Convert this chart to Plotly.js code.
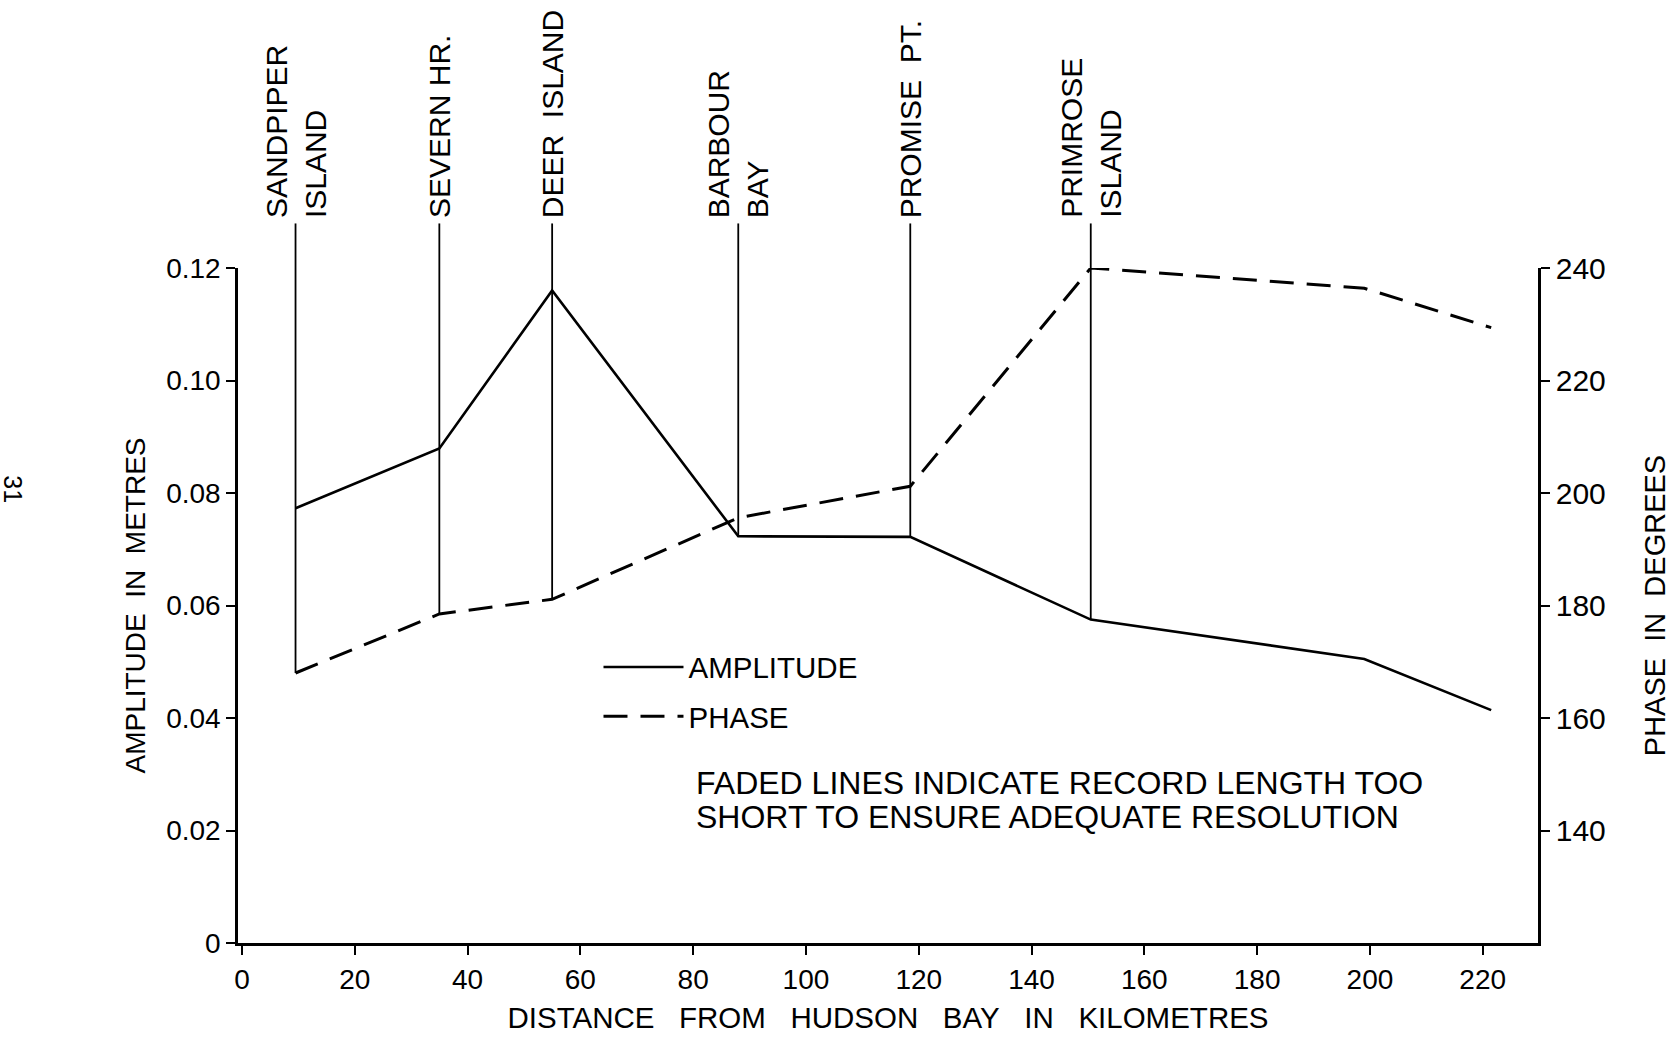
<!DOCTYPE html>
<html>
<head>
<meta charset="utf-8">
<script src="https://cdn.plot.ly/plotly-3.0.1.min.js"></script>
<style>html,body{margin:0;padding:0;background:#fff;}</style>
</head>
<body>
<div id="chart" style="width:1679px;height:1042px;"></div>
<script>
// ---- data ----
const distanceKm = [9.5, 35, 55, 88, 118.5, 150.5, 199, 221.5];
const amplitudeM = [0.0773, 0.0879, 0.116, 0.0723, 0.0722, 0.0575, 0.0505, 0.0414];
const phaseDeg   = [168.0, 178.5, 181.1, 195.6, 201.2, 240.0, 236.4, 229.4];

const stationKm    = [9.5, 35, 55, 88, 118.5, 150.5];
const stationNames = ['SANDPIPER<br>ISLAND', 'SEVERN HR.', 'DEER  ISLAND', 'BARBOUR<br>BAY', 'PROMISE  PT.', 'PRIMROSE<br>ISLAND'];

const xTickVals     = [0, 20, 40, 60, 80, 100, 120, 140, 160, 180, 200, 220];
const ampTickVals   = [0, 0.02, 0.04, 0.06, 0.08, 0.10, 0.12];
const ampTickText   = ['0', '0.02', '0.04', '0.06', '0.08', '0.10', '0.12'];
const phaseTickVals = [140, 160, 180, 200, 220, 240];

const noteLines = ['FADED LINES INDICATE RECORD LENGTH TOO', 'SHORT TO ENSURE ADEQUATE RESOLUTION'];

// ---- styling ----
const FONT = 'Liberation Sans, Arial, Helvetica, sans-serif';
const ampRange = [0, 0.12];
const phaseRange = [120, 240];
const xRange = [-0.7, 229.8];

const traces = [
  {
    x: distanceKm, y: amplitudeM, name: 'AMPLITUDE', type: 'scatter', mode: 'lines',
    line: {color: '#000', width: 2.6}, legendgroup: 'a', yaxis: 'y'
  },
  {
    x: distanceKm, y: phaseDeg, name: 'PHASE', type: 'scatter', mode: 'lines',
    line: {color: '#000', width: 3, dash: '24px,13px'}, legendgroup: 'p', yaxis: 'y2'
  }
];

const shapes = [];
const annotations = [];
stationKm.forEach((km, i) => {
  const j = distanceKm.indexOf(km);
  const fa = (amplitudeM[j] - ampRange[0]) / (ampRange[1] - ampRange[0]);
  const fp = (phaseDeg[j] - phaseRange[0]) / (phaseRange[1] - phaseRange[0]);
  if (fp < fa) {
    shapes.push({type: 'line', xref: 'x', yref: 'y2', x0: km, x1: km, y0: phaseDeg[j], y1: phaseRange[1],
      line: {color: '#000', width: 1.8}});
  } else {
    shapes.push({type: 'line', xref: 'x', yref: 'y', x0: km, x1: km, y0: amplitudeM[j], y1: ampRange[1],
      line: {color: '#000', width: 1.8}});
  }
  shapes.push({type: 'line', xref: 'x', yref: 'paper', x0: km, x1: km, y0: 1, y1: 1.066,
    line: {color: '#000', width: 1.8}});
  annotations.push({
    x: km, xref: 'x', y: 1.071, yref: 'paper', text: stationNames[i], textangle: -90,
    showarrow: false, xanchor: 'center', yanchor: 'bottom', align: 'left',
    font: {family: FONT, size: 30, color: '#000'}
  });
});

annotations.push({
  x: 0.3508, xref: 'paper', y: 0.237, yref: 'paper', text: noteLines[0], showarrow: false,
  xanchor: 'left', yanchor: 'middle', font: {family: FONT, size: 32, color: '#000'}
});
annotations.push({
  x: 0.3508, xref: 'paper', y: 0.187, yref: 'paper', text: noteLines[1], showarrow: false,
  xanchor: 'left', yanchor: 'middle', font: {family: FONT, size: 32, color: '#000'}
});
annotations.push({
  x: -0.173, xref: 'paper', y: 0.672, yref: 'paper', text: '31', textangle: 90, showarrow: false,
  xanchor: 'center', yanchor: 'middle', font: {family: FONT, size: 25, color: '#000'}
});

const layout = {
  width: 1679, height: 1042,
  paper_bgcolor: '#fff', plot_bgcolor: '#fff',
  margin: {l: 238, r: 141, t: 268, b: 99, pad: 0},
  font: {family: FONT, color: '#000'},
  showlegend: true,
  legend: {
    x: 0.2773, y: 0.447, xanchor: 'left', yanchor: 'top',
    bgcolor: 'rgba(0,0,0,0)', borderwidth: 0,
    font: {family: FONT, size: 29.5, color: '#000'},
    tracegroupgap: 8, itemwidth: 80
  },
  xaxis: {
    range: xRange, tickvals: xTickVals, ticks: 'outside', ticklen: 9, tickwidth: 2, tickcolor: '#000',
    showline: true, linewidth: 3, linecolor: '#000', showgrid: false, zeroline: false,
    tickfont: {family: FONT, size: 28, color: '#000'},
    title: {text: 'DISTANCE\u00A0\u00A0 FROM\u00A0\u00A0 HUDSON\u00A0\u00A0 BAY\u00A0\u00A0 IN\u00A0\u00A0 KILOMETRES',
      font: {family: FONT, size: 29.5, color: '#000'}, standoff: 14}
  },
  yaxis: {
    range: ampRange, tickvals: ampTickVals, ticktext: ampTickText, ticks: 'outside', ticklen: 9, tickwidth: 2,
    tickcolor: '#000', showline: true, linewidth: 2.5, linecolor: '#000', showgrid: false, zeroline: false,
    tickfont: {family: FONT, size: 28, color: '#000'},
    title: {text: 'AMPLITUDE\u00A0 IN\u00A0 METRES', font: {family: FONT, size: 28, color: '#000'}, standoff: 13}
  },
  yaxis2: {
    range: phaseRange, tickvals: phaseTickVals, overlaying: 'y', side: 'right', ticks: 'outside', ticklen: 9,
    tickwidth: 2, tickcolor: '#000', showline: true, linewidth: 2.5, linecolor: '#000', showgrid: false,
    zeroline: false, tickfont: {family: FONT, size: 30, color: '#000'},
    title: {text: 'PHASE\u00A0 IN\u00A0 DEGREES', font: {family: FONT, size: 29, color: '#000'}, standoff: 40}
  },
  shapes: shapes,
  annotations: annotations
};

Plotly.newPlot('chart', traces, layout, {displayModeBar: false, responsive: false});
</script>
</body>
</html>
